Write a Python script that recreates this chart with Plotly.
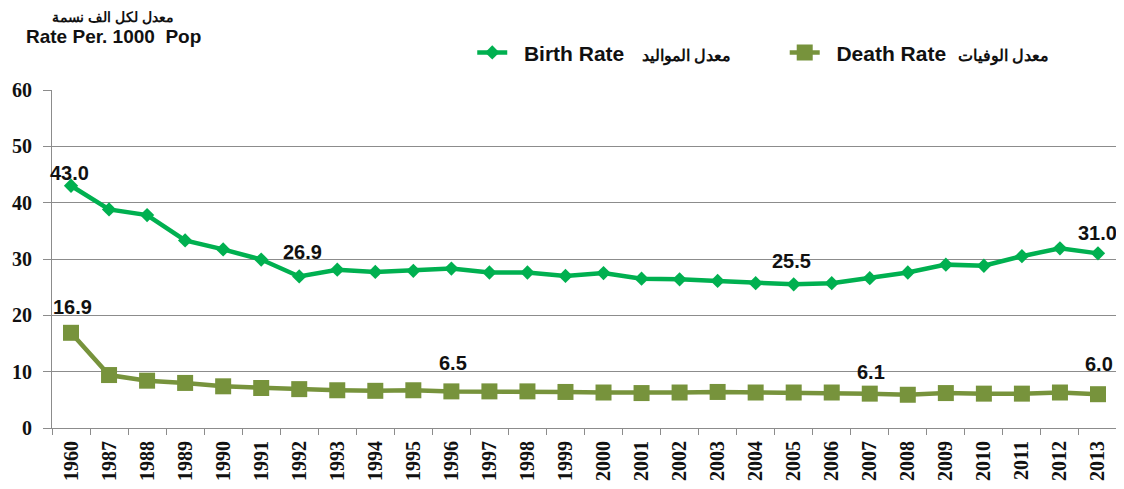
import plotly.graph_objects as go

years = ["1960", "1987", "1988", "1989", "1990", "1991", "1992", "1993", "1994", "1995",
         "1996", "1997", "1998", "1999", "2000", "2001", "2002", "2003", "2004", "2005",
         "2006", "2007", "2008", "2009", "2010", "2011", "2012", "2013"]
birth_rate = [43.0, 38.8, 37.8, 33.3, 31.7, 29.9, 26.9, 28.1, 27.7, 27.9,
              28.3, 27.6, 27.6, 27.0, 27.5, 26.5, 26.4, 26.1, 25.7, 25.5,
              25.7, 26.6, 27.6, 29.0, 28.8, 30.5, 31.9, 31.0]
death_rate = [16.9, 9.4, 8.4, 8.0, 7.4, 7.1, 6.9, 6.7, 6.6, 6.7,
              6.5, 6.5, 6.5, 6.4, 6.3, 6.2, 6.3, 6.4, 6.3, 6.3,
              6.3, 6.1, 5.9, 6.2, 6.1, 6.1, 6.3, 6.0]
birth_label_years = ["1960", "1992", "2005", "2013"]
death_label_years = ["1960", "1996", "2007", "2013"]
y_ticks = [0, 10, 20, 30, 40, 50, 60]

BIRTH = "#00B050"
DEATH = "#77933C"
GRID = "#8C8C8C"
SANS = "Liberation Sans, Arial"
SERIF = "Liberation Serif, Times New Roman"

fig = go.Figure()
fig.add_trace(go.Scatter(
    x=years, y=birth_rate, mode="lines+markers",
    name="&nbsp;&nbsp;<b>Birth Rate</b>&nbsp;&nbsp;&nbsp;<span style='font-size:16px'><b>معدل المواليد</b></span>",
    line=dict(color=BIRTH, width=4.5),
    marker=dict(symbol="diamond", size=11, color=BIRTH),
    legend="legend",
))
fig.add_trace(go.Scatter(
    x=years, y=death_rate, mode="lines+markers",
    name="&nbsp;&nbsp;<b>Death Rate</b>&nbsp;&nbsp;<span style='font-size:16px'><b>معدل الوفيات</b></span>",
    line=dict(color=DEATH, width=4.5),
    marker=dict(symbol="square", size=16, color=DEATH),
    legend="legend2",
))

label_font = dict(family=SANS, size=20, color="#111111", weight="bold")
birth_shift = {"1960": (-2, 13), "1992": (3, 24), "2005": (-2, 23), "2013": (0, 20)}
death_shift = {"1960": (1, 26), "1996": (2, 28), "2007": (1, 22), "2013": (1, 30)}
for yr in birth_label_years:
    i = years.index(yr)
    dx, dy = birth_shift[yr]
    fig.add_annotation(x=i, y=birth_rate[i], text=f"{birth_rate[i]:.1f}", showarrow=False,
                       xshift=dx, yshift=dy, font=label_font)
for yr in death_label_years:
    i = years.index(yr)
    dx, dy = death_shift[yr]
    fig.add_annotation(x=i, y=death_rate[i], text=f"{death_rate[i]:.1f}", showarrow=False,
                       xshift=dx, yshift=dy, font=label_font)

fig.add_annotation(xref="paper", yref="paper", x=0.057, y=1.0, xanchor="center", yanchor="middle",
                   text="<b>معدل لكل الف نسمة</b>", showarrow=False, yshift=73,
                   font=dict(family=SANS, size=14, color="#111111"))
fig.add_annotation(xref="paper", yref="paper", x=0.058, y=1.0, xanchor="center", yanchor="middle",
                   text="<b>Rate Per. 1000&nbsp; Pop</b>", showarrow=False, yshift=54,
                   font=dict(family=SANS, size=19, color="#111111"))

# page body has an 8px default margin, so the figure is 8px smaller on each axis
fig.update_layout(
    width=1116, height=481,
    margin=dict(l=44, r=7, t=82, b=61, autoexpand=False),
    plot_bgcolor="white", paper_bgcolor="white",
    legend=dict(orientation="h", x=0.3946, y=1.11, xanchor="left", yanchor="middle",
                font=dict(family=SANS, size=21, color="#111111"),
                bgcolor="rgba(0,0,0,0)"),
    legend2=dict(orientation="h", x=0.688, y=1.11, xanchor="left", yanchor="middle",
                 font=dict(family=SANS, size=21, color="#111111"),
                 bgcolor="rgba(0,0,0,0)"),
    showlegend=True,
)

fig.update_xaxes(
    type="category", tickangle=-90, tickson="boundaries", ticks="outside", ticklen=6,
    tickcolor=GRID, showline=True, linecolor=GRID, linewidth=1, showgrid=False,
    automargin=False, range=[-0.5, len(years) - 0.5], ticklabelstandoff=4,
    tickfont=dict(family=SERIF, size=20, color="#111111", weight="bold"),
)
fig.update_yaxes(
    range=[0, 60], tickvals=y_ticks, ticks="outside", ticklen=8, tickcolor=GRID,
    showline=True, linecolor=GRID, linewidth=1, showgrid=True, gridcolor=GRID, gridwidth=1,
    zeroline=False, automargin=False, ticklabelstandoff=7,
    tickfont=dict(family=SERIF, size=20, color="#111111", weight="bold"),
)

fig.write_html("out.html")
